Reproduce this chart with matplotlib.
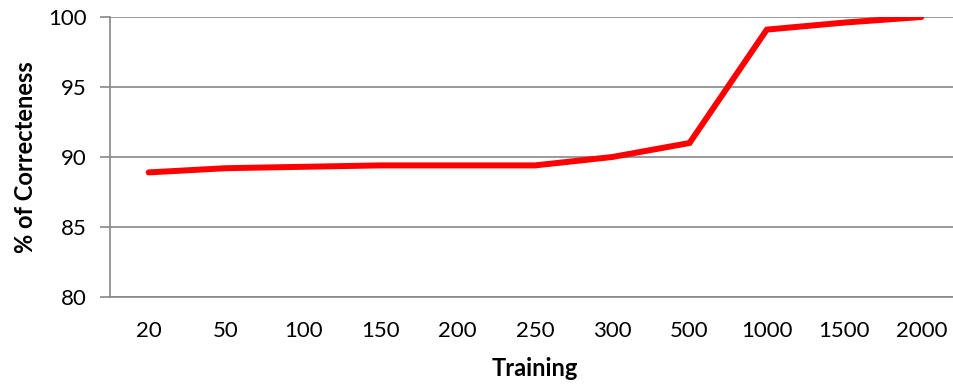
import matplotlib
matplotlib.use("Agg")
import matplotlib.pyplot as plt

categories = ["20", "50", "100", "150", "200", "250", "300", "500", "1000", "1500", "2000"]
correctness = [88.9, 89.2, 89.3, 89.4, 89.4, 89.4, 90.0, 91.0, 99.1, 99.6, 100.0]
y_ticks = [80, 85, 90, 95, 100]

plt.rcParams['font.family'] = ['Lato', 'DejaVu Sans']

fig = plt.figure(figsize=(9.54, 3.88), dpi=100)
ax = fig.add_axes([110/954, 1-297/388, 850/954, 280/388])

x = list(range(len(categories)))
ax.plot(x, correctness, color='#FF0000', linewidth=4.3, solid_capstyle='round', solid_joinstyle='miter', zorder=3)

ax.set_xlim(-0.5, len(categories) - 0.5)
ax.set_ylim(80, 100)
ax.set_yticks(y_ticks)
ax.set_xticks(x)
ax.set_xticklabels(categories)

ax.grid(axis='y', color='#888888', linewidth=1.2)
ax.set_axisbelow(True)
for s in ['top', 'right']:
    ax.spines[s].set_visible(False)
for s in ['left', 'bottom']:
    ax.spines[s].set_color('#888888')
    ax.spines[s].set_linewidth(1.2)

ax.tick_params(axis='y', length=7, width=1.2, color='#888888', labelsize=16, pad=10)
ax.tick_params(axis='x', length=0, labelsize=16, pad=17)

ax.set_ylabel('% of Correcteness', fontsize=17, fontweight='bold', labelpad=8)
ax.set_xlabel('Training', fontsize=17, fontweight='bold', labelpad=12)

fig.savefig('out.png', dpi=100)
